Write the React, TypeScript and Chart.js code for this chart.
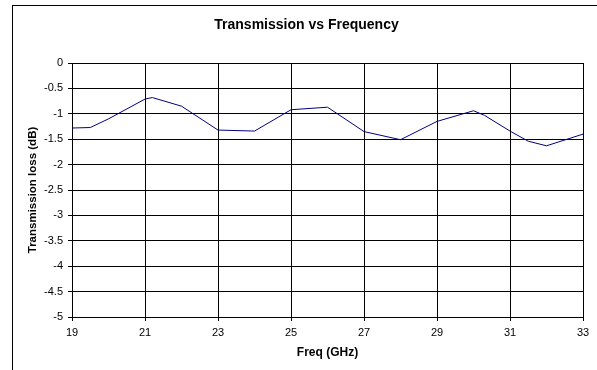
import React, { useEffect, useRef } from "react";
import { Chart, registerables } from "chart.js";

Chart.register(...registerables);

const chartTitle = "Transmission vs Frequency";
const xTitle = "Freq (GHz)";
const yTitle = "Transmission loss (dB)";
const freqs = [19, 19.5, 20, 21, 21.2, 22, 23, 24, 25, 26, 27, 28, 29, 30, 30.3, 31, 31.5, 32, 33];
const lossDb = [-1.28, -1.27, -1.1, -0.71, -0.68, -0.85, -1.32, -1.34, -0.92, -0.87, -1.35, -1.51, -1.15, -0.94, -1.03, -1.34, -1.54, -1.63, -1.4];
const xMin = 19;
const xMax = 33;
const xStep = 2;
const yMin = -5;
const yMax = 0;
const yStep = 0.5;

const FONT = "'Liberation Sans', Arial, sans-serif";

const fmt = (v: any) => {
  const n = Math.round(Number(v) * 100) / 100;
  return n === 0 ? "0" : String(n);
};

export default function App() {
  const ref = useRef<HTMLCanvasElement | null>(null);

  useEffect(() => {
    if (!ref.current) return;
    const points = freqs.map((f, i) => ({ x: f, y: lossDb[i] }));
    const chart = new Chart(ref.current, {
      type: "line",
      data: {
        datasets: [
          {
            data: points,
            borderColor: "#000080",
            borderWidth: 1,
            pointRadius: 0,
            tension: 0,
            fill: false,
            yAxisID: "y",
          },
        ],
      },
      options: {
        animation: false,
        responsive: false,
        devicePixelRatio: 1,
        layout: { padding: { left: 0, right: 0, top: 0, bottom: 0 } },
        plugins: {
          legend: { display: false },
          tooltip: { enabled: false },
          title: {
            display: true,
            text: chartTitle,
            color: "#000",
            font: { family: FONT, size: 14, weight: "bold" },
            padding: { top: 10.6, bottom: 29.6 },
          },
        },
        scales: {
          x: {
            type: "linear",
            min: xMin,
            max: xMax,
            ticks: {
              stepSize: xStep,
              color: "#000",
              font: { family: FONT, size: 11 },
              padding: 5,
              maxRotation: 0,
              callback: fmt,
            },
            grid: { color: "#000", lineWidth: 1, tickLength: 4, drawTicks: true },
            border: { color: "#000", width: 1 },
            title: {
              display: true,
              text: xTitle,
              color: "#000",
              font: { family: FONT, size: 12, weight: "bold" },
              padding: { top: 0, bottom: 9.8 },
            },
            afterFit: (s: any) => {
              s.height = 53;
            },
          },
          y: {
            type: "linear",
            position: "left",
            min: yMin,
            max: yMax,
            ticks: {
              stepSize: yStep,
              color: "#000",
              font: { family: FONT, size: 11 },
              padding: 5,
              callback: fmt,
            },
            grid: { color: "#000", lineWidth: 1, tickLength: 4, drawTicks: true },
            border: { color: "#000", width: 1 },
            title: {
              display: true,
              text: yTitle,
              color: "#000",
              font: { family: FONT, size: 11.5, weight: "bold" },
              padding: { top: 13.1, bottom: 0 },
            },
            afterFit: (s: any) => {
              s.width = 59;
            },
          },
          spacer: {
            type: "linear",
            position: "right",
            min: yMin,
            max: yMax,
            ticks: { display: false },
            grid: { display: false, drawTicks: false },
            border: { display: false },
            afterFit: (s: any) => {
              s.width = 17;
            },
          },
        },
      },
    });
    return () => chart.destroy();
  }, []);

  return (
    <div
      style={{
        position: "fixed",
        left: 0,
        top: 0,
        width: 597,
        height: 370,
        overflow: "hidden",
        background: "#fff",
      }}
    >
      <div
        style={{
          position: "absolute",
          left: 12,
          top: 5,
          width: 600,
          height: 400,
          borderLeft: "1px solid #000",
          borderTop: "1px solid #000",
          boxSizing: "content-box",
        }}
      >
        <canvas
          ref={ref}
          width={587}
          height={364}
          style={{ position: "absolute", left: 0, top: 0, width: 587, height: 364 }}
        />
      </div>
    </div>
  );
}
